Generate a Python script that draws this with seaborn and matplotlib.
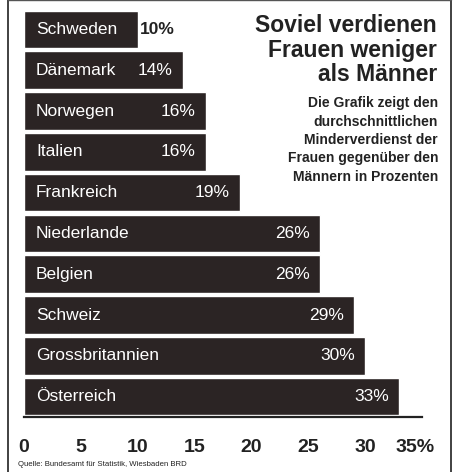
import seaborn as sns
import matplotlib.pyplot as plt
import pandas as pd
from matplotlib.lines import Line2D
from matplotlib.transforms import ScaledTranslation

countries = ["Schweden", "Dänemark", "Norwegen", "Italien", "Frankreich",
             "Niederlande", "Belgien", "Schweiz", "Grossbritannien", "Österreich"]
values = [10, 14, 16, 16, 19, 26, 26, 29, 30, 33]
ticks = [0, 5, 10, 15, 20, 25, 30, 35]
tick_labels = ["0", "5", "10", "15", "20", "25", "30", "35%"]

df = pd.DataFrame({"land": countries, "wert": values})

sns.set_style("white")
plt.rcParams['font.family'] = ["Liberation Sans", "DejaVu Sans"]

fig = plt.figure(figsize=(4.57, 4.72), dpi=100)
ax = fig.add_axes([24 / 457, 55 / 472, 398 / 457, 410 / 472])

sns.barplot(data=df, x="wert", y="land", color="#2b2424", saturation=1,
            width=0.92, ax=ax, orient="h")

ax.set_xlim(0, 35)
ax.set_ylim(9.5, -0.55)
ax.set_xticks(ticks)
ax.set_xticklabels(tick_labels, fontsize=14, fontweight="bold", color="#222")
ax.set_yticks([])
ax.set_xlabel("")
ax.set_ylabel("")
for s in ["left", "top", "right"]:
    ax.spines[s].set_visible(False)
ax.spines["bottom"].set_linewidth(1.6)
ax.spines["bottom"].set_color("#222")
ax.tick_params(axis="x", direction="out", length=11, width=1.6, color="#222", pad=5)
# "35%" etwas nach links, wie im Original
last = ax.get_xticklabels()[-1]
last.set_transform(last.get_transform() + ScaledTranslation(-7 / 100, 0, fig.dpi_scale_trans))

for i, (land, v) in enumerate(zip(countries, values)):
    ax.text(1.05, i, land, color="white", fontsize=12.5, va="center", ha="left")
    if v <= 10:
        ax.text(v + 0.2, i, f"{v}%", color="#222", fontsize=12.5, va="center",
                ha="left", fontweight="bold")
    else:
        ax.text(v - 0.9, i, f"{v}%", color="white", fontsize=12.5, va="center",
                ha="right")

# Titel
fig.text(437 / 457, 1 - 50 / 472, "Soviel verdienen\nFrauen weniger\nals Männer",
         ha="right", va="center", fontsize=16.5, fontweight="bold",
         color="#222", linespacing=1.08)
fig.text(438 / 457, 1 - 140 / 472,
         "Die Grafik zeigt den\ndurchschnittlichen\nMinderverdienst der\n"
         "Frauen gegenüber den\nMännern in Prozenten",
         ha="right", va="center", fontsize=10, fontweight="bold",
         color="#222", linespacing=1.4)
fig.text(18 / 457, 1 - 464 / 472, "Quelle: Bundesamt für Statistik, Wiesbaden BRD",
         ha="left", va="center", fontsize=5.6, color="#222")

# Rahmen
fig.add_artist(Line2D([8 / 457, 8 / 457], [0, 1], color="#333", lw=1.3))
fig.add_artist(Line2D([451 / 457, 451 / 457], [0, 1], color="#333", lw=1.3))
fig.add_artist(Line2D([8 / 457, 451 / 457], [0.999, 0.999], color="#555", lw=1))

plt.savefig("out.png", dpi=100)
plt.close()
